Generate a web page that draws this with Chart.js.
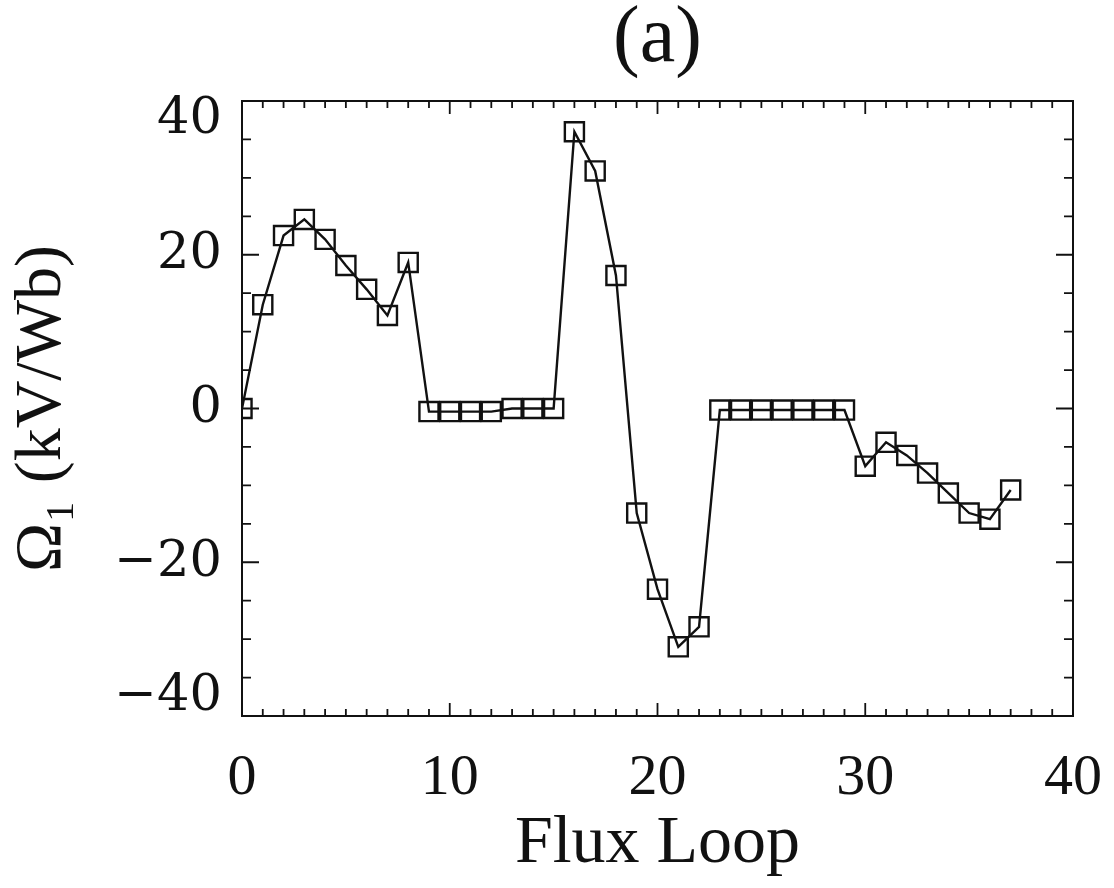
<!DOCTYPE html>
<html>
<head>
<meta charset="utf-8">
<script src="https://cdn.jsdelivr.net/npm/chart.js@4/dist/chart.umd.min.js"></script>
<style>
  html, body { margin: 0; padding: 0; background: #ffffff; }
  #wrap { width: 1114px; height: 888px; position: relative; }
</style>
</head>
<body>
<div id="wrap"><canvas id="c" width="1114" height="888"></canvas></div>
<script>
// Data
const fluxLoop = [0, 1, 2, 3, 4, 5, 6, 7, 8, 9, 10, 11, 12, 13, 14, 15, 16, 17, 18, 19,
                  20, 21, 22, 23, 24, 25, 26, 27, 28, 29, 30, 31, 32, 33, 34, 35, 36, 37];
const omega1 = [0, 13.5, 22.5, 24.6, 22.0, 18.6, 15.5, 12.1, 19.0, -0.4,
                -0.4, -0.4, -0.4, 0.0, 0.0, 0.0, 36.0, 30.9, 17.3, -13.6,
                -23.5, -31.0, -28.4, -0.2, -0.2, -0.2, -0.2, -0.2, -0.2, -0.2,
                -7.5, -4.4, -6.1, -8.4, -11.0, -13.6, -14.4, -10.6];
const xTickValues = [0, 10, 20, 30, 40];
const yTickValues = [-40, -20, 0, 20, 40];
const titleText = '(a)';
const xTitle = 'Flux Loop';
const yTitle = 'Ω\u2081 (kV/Wb)';

const ink = '#111111';

// Inward tick marks on all four sides plus the plot frame
const framePlugin = {
  id: 'frameTicks',
  afterDatasetsDraw(chart) {
    const {ctx, chartArea: a, scales: {x, y}} = chart;
    ctx.save();
    ctx.strokeStyle = ink;
    ctx.lineWidth = 2;
    ctx.strokeRect(a.left, a.top, a.right - a.left, a.bottom - a.top);
    ctx.lineWidth = 1.8;
    ctx.beginPath();
    for (let v = x.min; v <= x.max; v += 1) {
      const px = x.getPixelForValue(v);
      const len = (v % 10 === 0) ? 13 : 7;
      ctx.moveTo(px, a.bottom); ctx.lineTo(px, a.bottom - len);
      ctx.moveTo(px, a.top); ctx.lineTo(px, a.top + len);
    }
    for (let v = y.min; v <= y.max; v += 5) {
      const py = y.getPixelForValue(v);
      const len = (v % 20 === 0) ? 17 : 9;
      ctx.moveTo(a.left, py); ctx.lineTo(a.left + len, py);
      ctx.moveTo(a.right, py); ctx.lineTo(a.right - len, py);
    }
    ctx.stroke();
    ctx.restore();
  }
};

new Chart(document.getElementById('c'), {
  type: 'line',
  data: {
    datasets: [{
      data: fluxLoop.map((v, i) => ({x: v, y: omega1[i]})),
      borderColor: ink,
      borderWidth: 2.4,
      backgroundColor: 'rgba(0,0,0,0)',
      pointStyle: 'rect',
      pointRadius: 13.5,
      pointBorderWidth: 2.4,
      pointBorderColor: ink,
      pointBackgroundColor: 'rgba(0,0,0,0)',
      tension: 0,
      clip: 0
    }]
  },
  options: {
    responsive: false,
    animation: false,
    events: [],
    layout: { padding: { left: 0, right: 41, top: 0, bottom: 0 } },
    plugins: {
      legend: { display: false },
      tooltip: { enabled: false },
      title: {
        display: true,
        fullSize: false,
        text: titleText,
        color: ink,
        font: { family: '"Liberation Serif", serif', size: 80, lineHeight: 1, weight: 'normal' },
        padding: { top: 0, bottom: 21 }
      }
    },
    scales: {
      x: {
        type: 'linear',
        min: 0, max: 40,
        afterBuildTicks(scale) { scale.ticks = xTickValues.map(v => ({value: v})); },
        afterFit(scale) { scale.height = 172; scale.paddingRight = 0; scale.paddingLeft = 0; },
        grid: { display: false, drawTicks: false },
        border: { display: false },
        ticks: {
          color: ink,
          padding: 28,
          maxRotation: 0,
          autoSkip: false,
          font: { family: '"Liberation Serif", serif', size: 58 },
          callback: (v) => String(v)
        },
        title: {
          display: true,
          text: xTitle,
          color: ink,
          font: { family: '"Liberation Serif", serif', size: 68, lineHeight: 1 },
          padding: { top: 0, bottom: 10 }
        }
      },
      y: {
        type: 'linear',
        min: -40, max: 40,
        afterBuildTicks(scale) { scale.ticks = yTickValues.map(v => ({value: v})); },
        afterFit(scale) { scale.width = 242; },
        grid: { display: false, drawTicks: false },
        border: { display: false },
        ticks: {
          color: ink,
          padding: 20,
          autoSkip: false,
          font: { family: '"DejaVu Serif", serif', size: 51, lineHeight: 0.75 },
          callback: (v) => {
            const s = (v < 0 ? '\u2212' + Math.abs(v) : String(v));
            if (v === 40) return ['', s];
            if (v === -40) return [s, ''];
            return s;
          }
        },
        title: {
          display: true,
          text: yTitle,
          color: ink,
          font: { family: '"Liberation Serif", serif', size: 66, lineHeight: 1 },
          padding: { top: 10, bottom: 0 }
        }
      }
    }
  },
  plugins: [framePlugin]
});
</script>
</body>
</html>
